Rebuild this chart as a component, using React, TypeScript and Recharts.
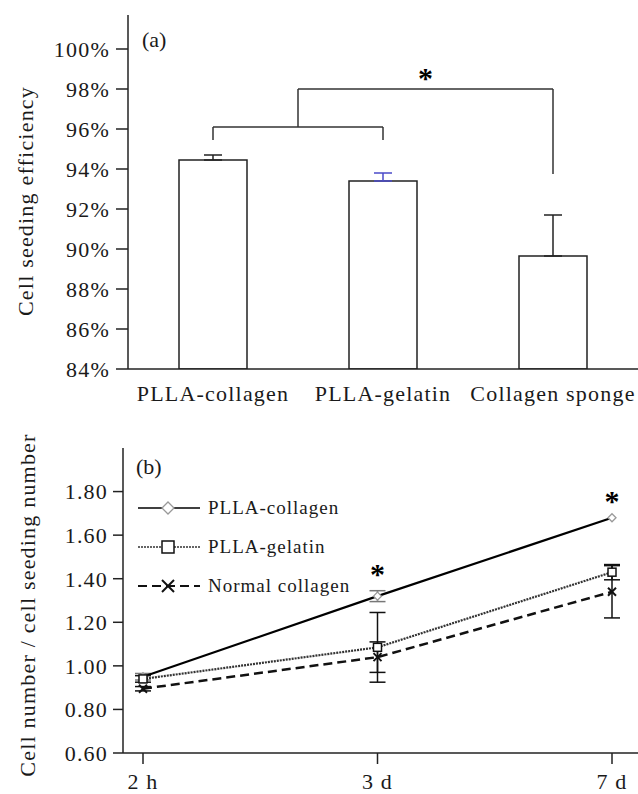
import {
  Bar,
  BarChart,
  ErrorBar,
  Legend,
  Line,
  LineChart,
  ReferenceDot,
  ReferenceLine,
  XAxis,
  YAxis,
} from "recharts";

// panel (a): seeding efficiency
const groups = ["PLLA-collagen", "PLLA-gelatin", "Collagen sponge"];
const efficiency = [94.45, 93.4, 89.65];
const efficiencyErr = [0.25, 0.4, 2.05];
const blueErrGroup = "PLLA-gelatin";
const efficiencyTicks = [84, 86, 88, 90, 92, 94, 96, 98, 100];

// panel (b): cell number / seeding number
const times = ["2 h", "3 d", "7 d"];
const pllaCollagen = [0.95, 1.32, 1.68];
const pllaCollagenErr = [0.015, 0.025, 0];
const pllaGelatin = [0.94, 1.085, 1.43];
const pllaGelatinErr = [0.015, 0.16, 0.035];
const normalCollagen = [0.895, 1.04, 1.34];
const normalCollagenErr = [0.01, 0.07, 0.12];
const ratioTicks = [0.6, 0.8, 1.0, 1.2, 1.4, 1.6, 1.8];

// significance marks
const innerBracket = { level: 96.1, foot: 95.45 };
const outerBracket = { level: 98, foot: 93.75, star: 98.8 };
const starsB = [
  { time: "3 d", y: 1.445 },
  { time: "7 d", y: 1.78 },
];

const serif = '"Liberation Serif", "Times New Roman", serif';
const ink = "#1a1a1a";
const tickStyle = { fill: ink, fontSize: 22, fontFamily: serif, letterSpacing: 1.2 };
const axisStyle = { stroke: "#222", strokeWidth: 1.5 };
const bracketStroke = "#333";

const barData = groups.map((name, i) => ({
  name,
  value: efficiency[i],
  errBlack: name === blueErrGroup ? undefined : [0, efficiencyErr[i]],
  errBlue: name === blueErrGroup ? [0, efficiencyErr[i]] : undefined,
}));

const lineData = times.map((time, i) => ({
  time,
  collagen: pllaCollagen[i],
  collagenErr: pllaCollagenErr[i],
  gelatin: pllaGelatin[i],
  gelatinErr: pllaGelatinErr[i],
  normal: normalCollagen[i],
  normalErr: normalCollagenErr[i],
}));

const starText = (x: number, y: number) => (
  <text x={x} y={y + 15} textAnchor="middle" fontSize={30} fontWeight="bold" fontFamily={serif} fill="#000">
    *
  </text>
);

const Star = (props: any) => starText(props.cx, props.cy);

// vertical line half-way between the two ends of the segment
const MidStem = (p: any) => {
  const x = (p.x1 + p.x2) / 2;
  return <line x1={x} y1={p.y1} x2={x} y2={p.y2} stroke={bracketStroke} strokeWidth={1.5} />;
};

// horizontal line that starts half a category step left of x1
const HalfStepLeft = (p: any) => (
  <line x1={p.x1 - (p.x2 - p.x1) / 2} y1={p.y1} x2={p.x2} y2={p.y2} stroke={bracketStroke} strokeWidth={1.5} />
);

// star centred over the outer bracket span
const BracketStar = (p: any) => starText(p.x1 + (p.x2 - p.x1) / 4, p.y1);

type MarkerKind = "diamond" | "square" | "cross";

const Marker = ({ kind, cx, cy, s }: { kind: MarkerKind; cx: number; cy: number; s: number }) => {
  if (kind === "diamond")
    return (
      <polygon
        points={`${cx},${cy - s} ${cx + s},${cy} ${cx},${cy + s} ${cx - s},${cy}`}
        fill="#fff"
        stroke="#999"
        strokeWidth={1.3}
      />
    );
  if (kind === "square")
    return (
      <rect x={cx - s} y={cy - s} width={2 * s} height={2 * s} fill="#fff" stroke="#111" strokeWidth={1.5} />
    );
  return (
    <g stroke="#111" strokeWidth={2}>
      <line x1={cx - s} y1={cy - s} x2={cx + s} y2={cy + s} />
      <line x1={cx - s} y1={cy + s} x2={cx + s} y2={cy - s} />
    </g>
  );
};

const series = [
  { key: "collagen", name: "PLLA-collagen", color: "#000", width: 2.2, dash: undefined, marker: "diamond" as MarkerKind, errColor: "#777" },
  { key: "gelatin", name: "PLLA-gelatin", color: "#333", width: 2.2, dash: "2 1", marker: "square" as MarkerKind, errColor: "#111" },
  { key: "normal", name: "Normal collagen", color: "#111", width: 2.5, dash: "9 5", marker: "cross" as MarkerKind, errColor: "#111" },
];

const renderLegend = () => (
  <div style={{ fontFamily: serif, fontSize: 19, letterSpacing: 1, color: ink }}>
    {series.map((s) => (
      <div key={s.key} style={{ display: "flex", alignItems: "center", height: 39 }}>
        <svg width={64} height={20}>
          <line x1={0} y1={10} x2={62} y2={10} stroke={s.color} strokeWidth={s.width - 0.5} strokeDasharray={s.dash} />
          <Marker kind={s.marker} cx={30} cy={10} s={6} />
        </svg>
        <span style={{ marginLeft: 6 }}>{s.name}</span>
      </div>
    ))}
  </div>
);

const yLabel = (text: string, x: number, y: number) => () => (
  <text
    transform={`translate(${x},${y}) rotate(-90)`}
    textAnchor="middle"
    dominantBaseline="central"
    fontSize={22}
    letterSpacing={1.2}
    fontFamily={serif}
    fill={ink}
  >
    {text}
  </text>
);

export default function App() {
  const [g1, g2, g3] = groups;
  return (
    <div
      style={{
        position: "absolute",
        left: 0,
        top: 0,
        width: 638,
        height: 794,
        background: "#fff",
        fontFamily: serif,
      }}
    >
      <BarChart width={638} height={410} data={barData} margin={{ top: 15, right: 0, bottom: 0, left: 0 }}>
        <XAxis
          dataKey="name"
          height={41}
          interval={0}
          tickLine={false}
          tickSize={0}
          tickMargin={16}
          axisLine={axisStyle}
          tick={tickStyle}
        />
        <XAxis
          xAxisId="top"
          dataKey="name"
          orientation="top"
          height={0}
          tick={false}
          tickLine={false}
          axisLine={axisStyle}
        />
        <YAxis
          width={128}
          domain={[84, 101.7]}
          allowDataOverflow
          ticks={efficiencyTicks}
          tickFormatter={(v: number) => `${v}%`}
          tickSize={12}
          tickMargin={6}
          axisLine={axisStyle}
          tickLine={axisStyle}
          tick={tickStyle}
          label={yLabel("Cell seeding efficiency", 25, 201)}
        />
        <Bar dataKey="value" fill="#fff" stroke="#222" strokeWidth={1.5} barSize={68} isAnimationActive={false}>
          <ErrorBar dataKey="errBlack" direction="y" width={9} stroke="#222" strokeWidth={1.5} />
          <ErrorBar dataKey="errBlue" direction="y" width={9} stroke="#4a4ac8" strokeWidth={1.5} />
        </Bar>

        {/* inner bracket: PLLA-collagen vs PLLA-gelatin */}
        <ReferenceLine segment={[{ x: g1, y: innerBracket.foot }, { x: g1, y: innerBracket.level }]} stroke={bracketStroke} strokeWidth={1.5} />
        <ReferenceLine segment={[{ x: g1, y: innerBracket.level }, { x: g2, y: innerBracket.level }]} stroke={bracketStroke} strokeWidth={1.5} />
        <ReferenceLine segment={[{ x: g2, y: innerBracket.level }, { x: g2, y: innerBracket.foot }]} stroke={bracketStroke} strokeWidth={1.5} />
        {/* outer bracket: both PLLA scaffolds vs collagen sponge */}
        <ReferenceLine segment={[{ x: g1, y: innerBracket.level }, { x: g2, y: outerBracket.level }]} shape={MidStem} />
        <ReferenceLine segment={[{ x: g2, y: outerBracket.level }, { x: g3, y: outerBracket.level }]} shape={HalfStepLeft} />
        <ReferenceLine segment={[{ x: g3, y: outerBracket.level }, { x: g3, y: outerBracket.foot }]} stroke={bracketStroke} strokeWidth={1.5} />
        <ReferenceLine segment={[{ x: g2, y: outerBracket.star }, { x: g3, y: outerBracket.star }]} shape={BracketStar} />

        <text x={142} y={47} fontSize={22} fontFamily={serif} fill={ink}>
          (a)
        </text>
      </BarChart>

      <LineChart width={638} height={384} data={lineData} margin={{ top: 38, right: 0, bottom: 0, left: 0 }}>
        <XAxis
          dataKey="time"
          height={41}
          padding={{ left: 20, right: 26 }}
          tickSize={11}
          tickMargin={9}
          axisLine={axisStyle}
          tickLine={axisStyle}
          tick={tickStyle}
        />
        <XAxis
          xAxisId="top"
          dataKey="time"
          orientation="top"
          height={0}
          tick={false}
          tickLine={false}
          axisLine={axisStyle}
        />
        <YAxis
          width={123}
          domain={[0.6, 2.0]}
          allowDataOverflow
          ticks={ratioTicks}
          tickFormatter={(v: number) => v.toFixed(2)}
          tickSize={10}
          tickMargin={5}
          axisLine={axisStyle}
          tickLine={axisStyle}
          tick={tickStyle}
          label={yLabel("Cell number / cell seeding number", 27, 195)}
        />
        {series.map((s) => (
          <Line
            key={s.key}
            dataKey={s.key}
            name={s.name}
            type="linear"
            stroke={s.color}
            strokeWidth={s.width}
            strokeDasharray={s.dash}
            isAnimationActive={false}
            dot={(p: any) => <Marker key={`${s.key}-${p.index}`} kind={s.marker} cx={p.cx} cy={p.cy} s={4} />}
            activeDot={false}
          >
            <ErrorBar dataKey={`${s.key}Err`} direction="y" width={8} stroke={s.errColor} strokeWidth={1.5} />
          </Line>
        ))}
        {starsB.map((st) => (
          <ReferenceDot key={st.time} x={st.time} y={st.y} r={0} shape={Star} />
        ))}
        <Legend
          layout="vertical"
          align="center"
          verticalAlign="middle"
          content={renderLegend}
          wrapperStyle={{ left: 138, top: 78, width: 320 }}
        />
        <text x={136} y={64} fontSize={22} fontFamily={serif} fill={ink}>
          (b)
        </text>
      </LineChart>
    </div>
  );
}
